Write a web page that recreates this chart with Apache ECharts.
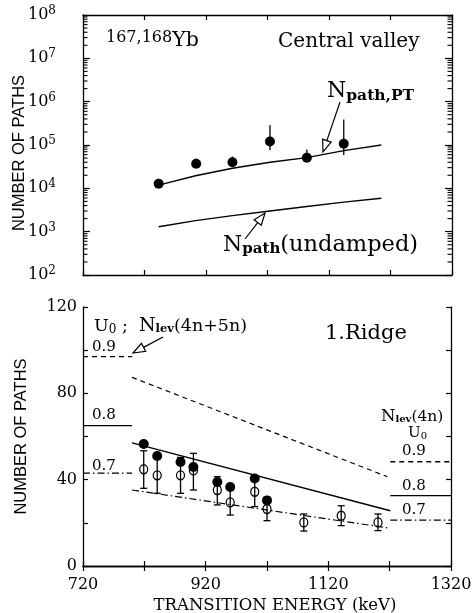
<!DOCTYPE html>
<html><head><meta charset="utf-8">
<script src="https://cdn.jsdelivr.net/npm/echarts@6/dist/echarts.min.js"></script>
<style>html,body{margin:0;padding:0;background:#fff}#c{width:472px;height:613px}</style>
</head><body><div id="c"></div>
<script>
// ---------- data ----------
const xTicks = [720, 920, 1120, 1320];
// top panel (log scale), Central valley
const energyTop = [843, 904, 963, 1024, 1084, 1144];
const pathsTop = [1.27e4, 3.7e4, 4.0e4, 1.21e5, 5.1e4, 1.07e5];
const pathsTopLow = [1.27e4, 3.7e4, 4.0e4, 7.6e4, 5.1e4, 5.9e4];
const pathsTopHigh = [1.27e4, 4.8e4, 5.4e4, 2.9e5, 7.9e4, 3.9e5];
const curveEnergy = [843, 903, 963, 1024, 1084, 1144, 1205];
const curvePT = [1.19e4, 1.95e4, 2.9e4, 4.0e4, 5.1e4, 7.4e4, 1.0e5];
const curveUndamped = [1.3e3, 1.8e3, 2.35e3, 3.0e3, 3.8e3, 4.8e3, 5.9e3];
// bottom panel, 1.Ridge
const energyFilled = [819, 841, 879, 900, 939, 960, 1000, 1020];
const pathsFilled = [56.5, 51, 48.2, 45.9, 38.9, 36.6, 40.5, 30.4];
const energyOpen = [819, 841, 879, 900, 939, 960, 1000, 1020, 1080, 1141, 1201];
const pathsOpen = [44.8, 42.0, 42.0, 44.3, 35.2, 29.5, 34.4, 26.4, 20.2, 23.3, 20.2];
const openLow = [36.0, 33.7, 33.7, 35.2, 28.3, 23.6, 27.5, 21.0, 16.2, 18.7, 16.4];
const openHigh = [53.4, 50.3, 50.3, 52.2, 41.4, 35.4, 41.3, 31.8, 24.1, 27.9, 24.1];
const energyU08 = [800, 1221];
const nlevU08 = [57.1, 25.6];
const energyU09 = [800, 1216];
const nlevU09 = [87.4, 41.4];
const energyU07 = [800, 1216];
const nlevU07 = [35.2, 17.7];
const leftRange = [720, 800];
const rightRange = [1221, 1320];
const leftLevels = [97, 65, 43];     // U0 = 0.9, 0.8, 0.7  (4n+5n)
const rightLevels = [48.3, 32.6, 21.3]; // U0 = 0.9, 0.8, 0.7  (4n)
const levelNames = ['0.9', '0.8', '0.7'];

// ---------- helpers ----------
const SERIF = 'DejaVu Serif';
const SANS = 'Liberation Sans';
const X_MIN = 720, X_MAX = 1320;
const pairs = (xs, ys) => xs.map((x, i) => [x, ys[i]]);
const lineTypes = [[5, 4], 'solid', [7, 3, 1.5, 3]];

const minorLog = [];
for (let e = 2; e < 8; e++) for (let k = 2; k <= 9; k++) minorLog.push([X_MIN, k * Math.pow(10, e)]);

function errRender(cap) {
  return function (params, api) {
    const x = api.value(0), lo = api.value(1), hi = api.value(2);
    const a = api.coord([x, lo]), b = api.coord([x, hi]);
    const st = { stroke: '#000', lineWidth: 1.3 };
    const ch = [{ type: 'line', shape: { x1: a[0], y1: a[1], x2: b[0], y2: b[1] }, style: st }];
    if (cap > 0) {
      ch.push({ type: 'line', shape: { x1: a[0] - cap, y1: a[1], x2: a[0] + cap, y2: a[1] }, style: st });
      ch.push({ type: 'line', shape: { x1: b[0] - cap, y1: b[1], x2: b[0] + cap, y2: b[1] }, style: st });
    }
    return { type: 'group', children: ch };
  };
}

function arrow(x1, y1, x2, y2) {
  const L = 12, W = 4.5;
  const dx = x2 - x1, dy = y2 - y1, d = Math.hypot(dx, dy);
  const ux = dx / d, uy = dy / d;
  const bx = x2 - ux * L, by = y2 - uy * L;
  return { type: 'group', children: [
    { type: 'line', shape: { x1: x1, y1: y1, x2: bx, y2: by }, style: { stroke: '#000', lineWidth: 1.2 } },
    { type: 'polygon', shape: { points: [[x2, y2], [bx - uy * W, by + ux * W], [bx + uy * W, by - ux * W]] },
      style: { fill: '#fff', stroke: '#000', lineWidth: 1.2 } }
  ] };
}

function txt(x, y, text, rich, extra) {
  return { type: 'text', x: x, y: y, style: Object.assign({ text: text, fontFamily: SERIF, fontSize: 15, fill: '#000', rich: rich || {} }, extra || {}) };
}

const axisLine = { show: true, lineStyle: { color: '#000', width: 1.3 } };
function xAx(grid, pos, labels) {
  return { type: 'value', gridIndex: grid, position: pos, min: X_MIN, max: X_MAX, interval: 100,
    axisLine: axisLine, splitLine: { show: false },
    axisTick: { show: true, inside: true, length: 5, lineStyle: { color: '#000', width: 1.2 } },
    axisLabel: labels ? { show: true, margin: 11, fontFamily: SERIF, fontSize: 16, color: '#000',
      formatter: v => xTicks.indexOf(v) >= 0 ? String(v) : '' } : { show: false } };
}

const chart = echarts.init(document.getElementById('c'));
chart.setOption({
  animation: false,
  backgroundColor: '#fff',
  grid: [
    { left: 83, top: 15, width: 369, height: 260, containLabel: false, outerBoundsMode: 'none' },
    { left: 83, top: 307, width: 368, height: 259, containLabel: false, outerBoundsMode: 'none' }
  ],
  xAxis: [
    xAx(0, 'bottom', false), xAx(0, 'top', false),
    Object.assign(xAx(1, 'bottom', true), { name: 'TRANSITION ENERGY (keV)', nameLocation: 'middle', nameGap: 31,
      nameTextStyle: { fontFamily: SERIF, fontSize: 16.5, color: '#000', padding: [0, 0, 0, 16] } }),
    xAx(1, 'top', false)
  ],
  yAxis: [
    { type: 'log', gridIndex: 0, min: 100, max: 1e8, logBase: 10, splitNumber: 6, position: 'left',
      axisLine: axisLine, splitLine: { show: false },
      axisTick: { show: true, inside: true, length: 7, lineStyle: { color: '#000', width: 1.2 } },
      axisLabel: { margin: 27, color: '#000', fontFamily: SERIF,
        formatter: v => '{b|10}{e|' + Math.round(Math.log10(v)) + '}',
        rich: { b: { fontFamily: SERIF, fontSize: 16, color: '#000' },
                e: { fontFamily: SERIF, fontSize: 12, color: '#000', padding: [0, 0, 8, 0] } } },
      name: 'NUMBER OF PATHS', nameLocation: 'middle', nameGap: 55, nameMoveOverlap: false,
      nameTextStyle: { fontFamily: SANS, fontSize: 16.5, color: '#000', padding: [0, 16, 0, 0] } },
    { type: 'log', gridIndex: 0, min: 100, max: 1e8, logBase: 10, splitNumber: 6, position: 'right',
      axisLine: axisLine, splitLine: { show: false },
      axisTick: { show: true, inside: true, length: 7, lineStyle: { color: '#000', width: 1.2 } }, axisLabel: { show: false } },
    { type: 'value', gridIndex: 1, min: 0, max: 120, interval: 20, position: 'left',
      axisLine: axisLine, splitLine: { show: false },
      axisTick: { show: true, inside: true, length: 5, lineStyle: { color: '#000', width: 1.2 } },
      axisLabel: { margin: 6, color: '#000', fontFamily: SERIF, fontSize: 16, formatter: v => v % 40 === 0 ? String(v) : '' },
      name: 'NUMBER OF PATHS', nameLocation: 'middle', nameGap: 53, nameMoveOverlap: false,
      nameTextStyle: { fontFamily: SANS, fontSize: 16.5, color: '#000' } },
    { type: 'value', gridIndex: 1, min: 0, max: 120, interval: 20, position: 'right',
      axisLine: axisLine, splitLine: { show: false },
      axisTick: { show: true, inside: true, length: 5, lineStyle: { color: '#000', width: 1.2 } }, axisLabel: { show: false } }
  ],
  series: [
    // log minor ticks along both vertical frame edges of the top panel
    { type: 'custom', xAxisIndex: 0, yAxisIndex: 0, silent: true, clip: false, data: minorLog, z: 10,
      encode: { x: 0, y: 1 },
      renderItem: (params, api) => {
        const v = api.value(1);
        const l = api.coord([X_MIN, v]), r = api.coord([X_MAX, v]);
        const st = { stroke: '#000', lineWidth: 1.1 };
        return { type: 'group', children: [
          { type: 'line', shape: { x1: l[0], y1: l[1], x2: l[0] + 4.5, y2: l[1] }, style: st },
          { type: 'line', shape: { x1: r[0] - 4.5, y1: r[1], x2: r[0], y2: r[1] }, style: st } ] };
      } },
    { type: 'line', xAxisIndex: 0, yAxisIndex: 0, data: pairs(curveEnergy, curvePT), showSymbol: false,
      lineStyle: { color: '#000', width: 1.4 } },
    { type: 'line', xAxisIndex: 0, yAxisIndex: 0, data: pairs(curveEnergy, curveUndamped), showSymbol: false,
      lineStyle: { color: '#000', width: 1.4 } },
    { type: 'custom', xAxisIndex: 0, yAxisIndex: 0, renderItem: errRender(0),
      data: energyTop.map((x, i) => [x, pathsTopLow[i], pathsTopHigh[i]]), encode: { x: 0, y: [1, 2] } },
    { type: 'scatter', xAxisIndex: 0, yAxisIndex: 0, data: pairs(energyTop, pathsTop), symbol: 'circle', symbolSize: 10,
      itemStyle: { color: '#000', opacity: 1 } },
    // bottom panel
    { type: 'line', xAxisIndex: 2, yAxisIndex: 2, data: pairs(energyU09, nlevU09), showSymbol: false,
      lineStyle: { color: '#000', width: 1.2, type: lineTypes[0] } },
    { type: 'line', xAxisIndex: 2, yAxisIndex: 2, data: pairs(energyU08, nlevU08), showSymbol: false,
      lineStyle: { color: '#000', width: 1.3, type: lineTypes[1] } },
    { type: 'line', xAxisIndex: 2, yAxisIndex: 2, data: pairs(energyU07, nlevU07), showSymbol: false,
      lineStyle: { color: '#000', width: 1.2, type: lineTypes[2] } },
    ...leftLevels.map((v, i) => ({ type: 'line', xAxisIndex: 2, yAxisIndex: 2, data: leftRange.map(x => [x, v]),
      showSymbol: false, lineStyle: { color: '#000', width: 1.3, type: lineTypes[i] } })),
    ...rightLevels.map((v, i) => ({ type: 'line', xAxisIndex: 2, yAxisIndex: 2, data: rightRange.map(x => [x, v]),
      showSymbol: false, lineStyle: { color: '#000', width: 1.3, type: lineTypes[i] } })),
    { type: 'custom', xAxisIndex: 2, yAxisIndex: 2, renderItem: errRender(3.5),
      data: energyOpen.map((x, i) => [x, openLow[i], openHigh[i]]), encode: { x: 0, y: [1, 2] } },
    { type: 'scatter', xAxisIndex: 2, yAxisIndex: 2, data: pairs(energyOpen, pathsOpen), symbol: 'circle', symbolSize: [8, 9],
      itemStyle: { color: 'rgba(0,0,0,0)', borderColor: '#000', borderWidth: 1.3, opacity: 1 } },
    { type: 'scatter', xAxisIndex: 2, yAxisIndex: 2, data: pairs(energyFilled, pathsFilled), symbol: 'circle', symbolSize: 10,
      itemStyle: { color: '#000', opacity: 1 }, z: 5 }
  ],
  graphic: [
    txt(106, 30, '{s|167,168}{b|Yb}', {
      s: { fontFamily: SERIF, fontSize: 16, padding: [0, 0, 5, 0] },
      b: { fontFamily: SERIF, fontSize: 20.5 } }),
    txt(278, 32, 'Central valley', null, { fontSize: 20 }),
    txt(327, 79, '{n|N}{s|path,PT}', {
      n: { fontFamily: SERIF, fontSize: 22 },
      s: { fontFamily: SERIF, fontSize: 15.5, fontWeight: 'bold', padding: [9, 0, 0, 0] } }),
    arrow(340, 102, 323, 152),
    txt(223, 233, '{n|N}{s|path}{b|(undamped)}', {
      n: { fontFamily: SERIF, fontSize: 22 },
      s: { fontFamily: SERIF, fontSize: 15, fontWeight: 'bold', padding: [9, 0, 0, 0] },
      b: { fontFamily: SERIF, fontSize: 22.5 } }),
    arrow(245, 239, 265, 213),
    // bottom panel texts
    txt(94, 317, '{b|U}{z|0}{b| ;  }{n|N}{s|lev}{b|(4n+5n)}', {
      b: { fontFamily: SERIF, fontSize: 17.5 },
      n: { fontFamily: SERIF, fontSize: 19 },
      z: { fontFamily: SERIF, fontSize: 12, padding: [6, 0, 0, 0] },
      s: { fontFamily: SERIF, fontSize: 11.5, fontWeight: 'bold', padding: [6, 0, 0, 0] } }),
    arrow(163, 337, 133, 353),
    txt(325, 323, '1.Ridge', null, { fontSize: 21 }),
    txt(92, 340, levelNames[0], null, { fontSize: 15 }),
    txt(92, 408, levelNames[1], null, { fontSize: 15 }),
    txt(92, 459, levelNames[2], null, { fontSize: 15 }),
    txt(381, 408, '{n|N}{s|lev}{b|(4n)}', {
      b: { fontFamily: SERIF, fontSize: 15.5 },
      n: { fontFamily: SERIF, fontSize: 16.5 },
      s: { fontFamily: SERIF, fontSize: 10, fontWeight: 'bold', padding: [6, 0, 0, 0] } }),
    txt(408, 426, '{b|U}{s|0}', {
      b: { fontFamily: SERIF, fontSize: 15 },
      s: { fontFamily: SERIF, fontSize: 10, padding: [5, 0, 0, 0] } }),
    txt(402, 444, levelNames[0], null, { fontSize: 15 }),
    txt(402, 479, levelNames[1], null, { fontSize: 15 }),
    txt(402, 503, levelNames[2], null, { fontSize: 15 })
  ]
});
</script></body></html>
